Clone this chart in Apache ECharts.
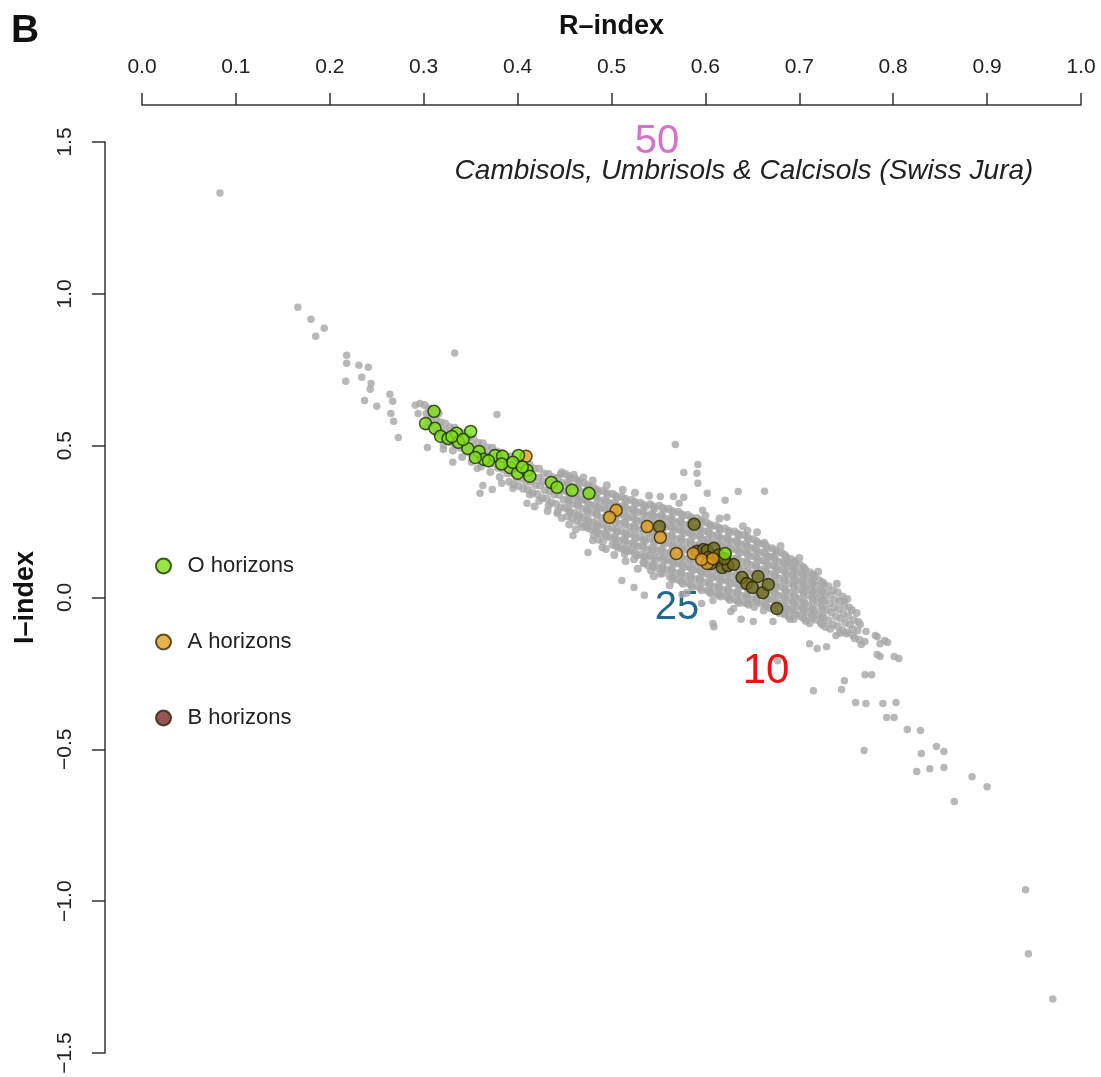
<!DOCTYPE html>
<html><head><meta charset="utf-8">
<script src="https://cdn.jsdelivr.net/npm/echarts@6/dist/echarts.min.js"></script>
<style>html,body{margin:0;padding:0;background:#fff}#c{width:1101px;height:1077px}</style>
</head><body><div id="c"></div>
<script>
// ---- data (R-index, I-index) ----
// dense band of all soil samples (grey)
const grayBand = [
[.301,.634],[.303,.606],[.304,.581],[.302,.562],[.306,.622],[.308,.595],[.307,.569],
[.311,.619],[.313,.588],[.312,.561],[.314,.539],[.316,.607],[.318,.577],[.317,.551],[.319,.530],
[.323,.573],[.322,.549],[.324,.520],[.321,.503],[.328,.561],[.327,.533],[.329,.511],
[.333,.559],[.332,.528],[.334,.503],[.331,.484],[.338,.546],[.337,.517],[.339,.493],
[.343,.541],[.342,.511],[.344,.489],[.341,.463],[.348,.528],[.347,.499],[.349,.477],
[.353,.523],[.352,.498],[.354,.469],[.351,.446],[.358,.510],[.357,.486],[.359,.457],
[.363,.508],[.362,.483],[.364,.454],[.361,.431],[.368,.494],[.367,.469],[.369,.441],
[.373,.493],[.372,.466],[.374,.441],[.371,.413],[.378,.481],[.377,.452],[.379,.427],
[.383,.477],[.382,.452],[.384,.423],[.381,.397],[.388,.464],[.387,.438],[.389,.409],
[.393,.464],[.392,.435],[.394,.410],[.391,.381],[.398,.449],[.397,.423],[.399,.394],[.396,.373],
[.403,.448],[.402,.422],[.404,.393],[.401,.367],[.408,.436],[.407,.407],[.409,.381],[.406,.358],
[.413,.437],[.412,.411],[.414,.382],[.411,.356],[.413,.339],[.418,.425],[.417,.395],[.419,.370],[.416,.344],
[.423,.424],[.422,.394],[.424,.369],[.421,.341],[.423,.319],[.428,.408],[.427,.383],[.429,.353],[.426,.328],
[.433,.407],[.432,.381],[.434,.351],[.431,.326],[.433,.303],[.438,.395],[.437,.365],[.439,.339],[.436,.313],
[.443,.394],[.442,.364],[.444,.338],[.441,.308],[.443,.284],[.446,.407],[.448,.378],[.447,.352],[.449,.322],[.446,.296],
[.451,.407],[.453,.377],[.452,.351],[.454,.321],[.451,.295],[.453,.267],[.456,.391],[.458,.365],[.457,.335],[.459,.309],[.456,.279],[.458,.261],
[.461,.392],[.463,.364],[.462,.334],[.464,.308],[.461,.278],[.463,.252],[.466,.378],[.468,.348],[.467,.322],[.469,.292],[.466,.266],[.468,.244],
[.471,.377],[.473,.347],[.472,.321],[.474,.291],[.471,.265],[.473,.235],[.476,.363],[.478,.335],[.477,.305],[.479,.279],[.476,.249],[.478,.225],
[.481,.362],[.483,.334],[.482,.304],[.484,.278],[.481,.248],[.483,.222],[.481,.204],[.486,.348],[.488,.318],[.487,.292],[.489,.262],[.486,.236],[.488,.211],
[.491,.352],[.493,.322],[.492,.296],[.494,.266],[.491,.240],[.493,.210],[.491,.185],[.496,.338],[.498,.310],[.497,.280],[.499,.254],[.496,.224],[.498,.198],
[.501,.342],[.503,.312],[.502,.286],[.504,.256],[.501,.230],[.503,.200],[.501,.174],[.506,.328],[.508,.298],[.507,.272],[.509,.242],[.506,.216],[.508,.186],[.507,.164],
[.511,.332],[.513,.304],[.512,.274],[.514,.248],[.511,.218],[.513,.192],[.511,.162],[.514,.144],[.516,.318],[.518,.288],[.517,.262],[.519,.232],[.516,.206],[.518,.176],[.517,.153],
[.521,.322],[.523,.292],[.522,.266],[.524,.236],[.521,.210],[.523,.180],[.521,.154],[.524,.126],[.526,.308],[.528,.280],[.527,.250],[.529,.224],[.526,.194],[.528,.168],[.527,.138],
[.531,.312],[.533,.284],[.532,.254],[.534,.228],[.531,.198],[.533,.172],[.531,.142],[.534,.116],[.536,.298],[.538,.268],[.537,.242],[.539,.212],[.536,.186],[.538,.156],[.537,.130],[.539,.105],
[.541,.307],[.543,.277],[.542,.251],[.544,.221],[.541,.195],[.543,.165],[.541,.139],[.544,.109],[.542,.089],[.546,.293],[.548,.265],[.547,.235],[.549,.209],[.546,.179],[.548,.153],[.547,.123],[.549,.097],
[.551,.302],[.553,.272],[.552,.246],[.554,.216],[.551,.190],[.553,.160],[.551,.134],[.554,.104],[.552,.078],[.556,.288],[.558,.258],[.557,.232],[.559,.202],[.556,.176],[.558,.146],[.557,.120],[.559,.092],
[.561,.292],[.563,.262],[.562,.236],[.564,.206],[.561,.180],[.563,.150],[.561,.124],[.564,.094],[.562,.068],[.566,.278],[.568,.248],[.567,.222],[.569,.192],[.566,.166],[.568,.136],[.567,.110],[.569,.080],[.566,.059],
[.571,.282],[.573,.252],[.572,.226],[.574,.196],[.571,.170],[.573,.140],[.571,.114],[.574,.084],[.572,.058],[.576,.268],[.578,.238],[.577,.212],[.579,.182],[.576,.156],[.578,.126],[.577,.100],[.579,.070],[.576,.045],
[.581,.272],[.583,.242],[.582,.216],[.584,.186],[.581,.160],[.583,.130],[.581,.104],[.584,.074],[.582,.048],[.586,.258],[.588,.228],[.587,.202],[.589,.172],[.586,.146],[.588,.116],[.587,.090],[.589,.060],[.586,.034],
[.591,.262],[.593,.232],[.592,.206],[.594,.176],[.591,.150],[.593,.120],[.591,.094],[.594,.064],[.592,.038],[.596,.248],[.598,.218],[.597,.192],[.599,.162],[.596,.136],[.598,.106],[.597,.080],[.599,.050],[.596,.024],
[.601,.247],[.603,.217],[.602,.191],[.604,.161],[.601,.135],[.603,.105],[.601,.079],[.604,.049],[.602,.023],[.606,.233],[.608,.203],[.607,.177],[.609,.147],[.606,.121],[.608,.091],[.607,.065],[.609,.035],[.606,.013],
[.611,.237],[.613,.207],[.612,.181],[.614,.151],[.611,.125],[.613,.095],[.611,.069],[.614,.039],[.612,.013],[.616,.223],[.618,.193],[.617,.167],[.619,.137],[.616,.111],[.618,.081],[.617,.055],[.619,.025],[.616,.003],
[.621,.227],[.623,.197],[.622,.171],[.624,.141],[.621,.115],[.623,.085],[.621,.059],[.624,.029],[.622,.003],[.626,.213],[.628,.183],[.627,.157],[.629,.127],[.626,.101],[.628,.071],[.627,.045],[.629,.015],[.626,-.008],
[.631,.217],[.633,.187],[.632,.161],[.634,.131],[.631,.105],[.633,.075],[.631,.049],[.634,.019],[.632,-.007],[.636,.203],[.638,.173],[.637,.147],[.639,.117],[.636,.091],[.638,.061],[.637,.035],[.639,.005],[.636,-.018],
[.641,.207],[.643,.177],[.642,.151],[.644,.121],[.641,.095],[.643,.065],[.641,.039],[.644,.009],[.642,-.017],[.646,.193],[.648,.163],[.647,.137],[.649,.107],[.646,.081],[.648,.051],[.647,.025],[.649,-.005],[.646,-.024],
[.651,.192],[.653,.162],[.652,.136],[.654,.106],[.651,.080],[.653,.050],[.651,.024],[.654,-.006],[.652,-.031],[.656,.178],[.658,.148],[.657,.122],[.659,.092],[.656,.066],[.658,.036],[.657,.010],[.659,-.020],
[.661,.177],[.663,.147],[.662,.121],[.664,.091],[.661,.065],[.663,.035],[.661,.009],[.664,-.021],[.662,-.043],[.666,.163],[.668,.133],[.667,.107],[.669,.077],[.666,.051],[.668,.021],[.667,-.005],[.669,-.035],
[.671,.162],[.673,.132],[.672,.106],[.674,.076],[.671,.050],[.673,.020],[.671,-.006],[.674,-.036],[.676,.148],[.678,.118],[.677,.092],[.679,.062],[.676,.036],[.678,.006],[.677,-.020],[.679,-.051],
[.681,.147],[.683,.117],[.682,.091],[.684,.061],[.681,.035],[.683,.005],[.681,-.021],[.684,-.051],[.686,.133],[.688,.103],[.687,.077],[.689,.047],[.686,.021],[.688,-.009],[.687,-.035],[.689,-.063],
[.691,.127],[.693,.097],[.692,.071],[.694,.041],[.691,.015],[.693,-.015],[.691,-.041],[.694,-.071],[.696,.113],[.698,.083],[.697,.057],[.699,.027],[.696,.001],[.698,-.029],[.697,-.057],
[.701,.107],[.703,.077],[.702,.051],[.704,.021],[.701,-.005],[.703,-.035],[.701,-.061],[.706,.093],[.708,.063],[.707,.037],[.709,.007],[.706,-.019],[.708,-.049],[.707,-.077],
[.711,.083],[.713,.053],[.712,.027],[.714,-.003],[.711,-.029],[.713,-.059],[.711,-.085],[.716,.069],[.718,.039],[.717,.013],[.719,-.017],[.716,-.043],[.718,-.073],
[.721,.057],[.723,.027],[.722,.001],[.724,-.029],[.721,-.055],[.723,-.085],[.726,.045],[.728,.015],[.727,-.011],[.729,-.041],[.726,-.067],[.728,-.097],
[.731,.037],[.733,.007],[.732,-.019],[.734,-.049],[.731,-.075],[.733,-.103],[.736,.023],[.738,-.007],[.737,-.033],[.739,-.063],[.736,-.089],
[.741,.017],[.743,-.013],[.742,-.039],[.744,-.069],[.741,-.095],[.743,-.117],[.746,.003],[.748,-.027],[.747,-.053],[.749,-.083],[.746,-.109],
[.751,-.005],[.753,-.033],[.752,-.061],[.754,-.089],[.751,-.115],[.756,-.041],[.758,-.074],[.757,-.104],[.759,-.134],
[.761,-.051],[.763,-.081],[.762,-.109],[.764,-.139],
// extra core samples
[.4545,.400],[.4545,.370],[.4545,.344],[.4545,.314],[.4545,.288],
[.4645,.385],[.4645,.357],[.4645,.327],[.4645,.301],[.4645,.271],
[.4745,.370],[.4745,.340],[.4745,.314],[.4745,.284],[.4745,.258],[.4745,.230],
[.4845,.355],[.4845,.327],[.4845,.297],[.4845,.271],[.4845,.241],[.4845,.215],
[.4945,.345],[.4945,.315],[.4945,.289],[.4945,.259],[.4945,.233],[.4945,.203],
[.5045,.335],[.5045,.305],[.5045,.279],[.5045,.249],[.5045,.223],[.5045,.193],[.5045,.170],
[.5145,.325],[.5145,.297],[.5145,.267],[.5145,.241],[.5145,.211],[.5145,.185],[.5145,.158],
[.5245,.315],[.5245,.285],[.5245,.259],[.5245,.229],[.5245,.203],[.5245,.173],[.5245,.147],
[.5345,.305],[.5345,.277],[.5345,.247],[.5345,.221],[.5345,.191],[.5345,.165],[.5345,.135],[.5345,.112],
[.5445,.300],[.5445,.270],[.5445,.244],[.5445,.214],[.5445,.188],[.5445,.158],[.5445,.132],[.5445,.102],
[.5545,.295],[.5545,.265],[.5545,.239],[.5545,.209],[.5545,.183],[.5545,.153],[.5545,.127],[.5545,.097],[.5545,.080],
[.5645,.285],[.5645,.255],[.5645,.229],[.5645,.199],[.5645,.173],[.5645,.143],[.5645,.117],[.5645,.087],[.5645,.065],
[.5745,.275],[.5745,.245],[.5745,.219],[.5745,.189],[.5745,.163],[.5745,.133],[.5745,.107],[.5745,.077],[.5745,.052],
[.5845,.265],[.5845,.235],[.5845,.209],[.5845,.179],[.5845,.153],[.5845,.123],[.5845,.097],[.5845,.067],[.5845,.041],
[.5945,.255],[.5945,.225],[.5945,.199],[.5945,.169],[.5945,.143],[.5945,.113],[.5945,.087],[.5945,.057],[.5945,.031],
[.6045,.240],[.6045,.210],[.6045,.184],[.6045,.154],[.6045,.128],[.6045,.098],[.6045,.072],[.6045,.042],[.6045,.018],
[.6145,.230],[.6145,.200],[.6145,.174],[.6145,.144],[.6145,.118],[.6145,.088],[.6145,.062],[.6145,.032],[.6145,.008],
[.6245,.220],[.6245,.190],[.6245,.164],[.6245,.134],[.6245,.108],[.6245,.078],[.6245,.052],[.6245,.022],[.6245,-.002],
[.6345,.210],[.6345,.180],[.6345,.154],[.6345,.124],[.6345,.098],[.6345,.068],[.6345,.042],[.6345,.012],[.6345,-.012],
[.6445,.200],[.6445,.170],[.6445,.144],[.6445,.114],[.6445,.088],[.6445,.058],[.6445,.032],[.6445,.002],[.6445,-.020],
[.6545,.185],[.6545,.155],[.6545,.129],[.6545,.099],[.6545,.073],[.6545,.043],[.6545,.017],[.6545,-.013],
[.6645,.170],[.6645,.140],[.6645,.114],[.6645,.084],[.6645,.058],[.6645,.028],[.6645,.002],[.6645,-.028],
[.6745,.155],[.6745,.125],[.6745,.099],[.6745,.069],[.6745,.043],[.6745,.013],[.6745,-.013],[.6745,-.043],
[.6845,.140],[.6845,.110],[.6845,.084],[.6845,.054],[.6845,.028],[.6845,-.002],[.6845,-.028],[.6845,-.056],
[.6945,.120],[.6945,.090],[.6945,.064],[.6945,.034],[.6945,.008],[.6945,-.022],[.6945,-.048],
[.7045,.100],[.7045,.070],[.7045,.044],[.7045,.014],[.7045,-.012],[.7045,-.042],[.7045,-.068],
[.7145,.076],[.7145,.046],[.7145,.020],[.7145,-.010],[.7145,-.036],[.7145,-.066],
[.7245,.050],[.7245,.020],[.7245,-.006],[.7245,-.036],[.7245,-.062],[.7245,-.090],
// ragged edges
[.418,.300],[.432,.285],[.447,.262],[.455,.240],[.462,.225],[.486,.190],[.494,.160],[.503,.140],[.515,.120],[.528,.095],[.545,.070],[.562,.040],[.580,.015],
[.540,.335],[.525,.345],[.512,.355],[.495,.370],[.480,.385],[.600,.270],[.615,.260],[.640,.235],[.655,.215],[.680,.170],[.700,.130],[.720,.085],[.740,.045]
];
// scattered samples away from the band (grey)
const grayScatter = [
[.083,1.332],[.166,.956],[.180,.916],[.194,.887],[.185,.860],[.218,.798],[.218,.771],[.231,.765],[.241,.758],[.217,.712],[.234,.725],[.244,.705],[.243,.686],[.237,.649],[.250,.630],[.264,.669],[.267,.646],[.265,.606],[.268,.580],[.273,.527],[.291,.633],[.296,.639],[.294,.606],[.333,.805],[.378,.603],
[.304,.494],[.321,.488],[.331,.445],[.357,.425],[.363,.369],[.360,.343],[.373,.356],[.383,.376],[.395,.359],[.410,.310],[.442,.277],[.459,.204],[.475,.148],[.480,.188],[.490,.165],[.469,.231],[.511,.056],[.524,.033],[.535,.007],[.608,-.010],[.608,-.086],[.630,-.036],[.596,-.020],[.575,.010],
[.568,.504],[.592,.438],[.577,.412],[.591,.409],[.592,.376],[.602,.343],[.635,.349],[.621,.320],[.552,.333],[.566,.333],[.577,.330],[.572,.310],[.597,.287],[.623,.264],[.645,.221],[.663,.181],[.669,.135],[.688,.115],[.663,.350],[.470,.396],[.460,.405],[.447,.413],
[.711,-.152],[.719,-.168],[.729,-.162],[.739,-.125],[.750,-.119],[.757,-.125],[.609,-.096],[.627,-.046],[.638,-.072],[.651,-.079],[.672,-.079],[.690,-.072],[.677,-.208],
[.748,-.010],[.765,-.089],[.771,-.112],[.770,-.145],[.766,-.155],[.783,-.129],[.786,-.152],[.794,-.148],[.786,-.194],[.806,-.201],[.781,-.125],[.791,-.142],[.783,-.188],[.801,-.194],
[.770,-.254],[.777,-.254],[.748,-.274],[.745,-.303],[.715,-.307],[.760,-.346],[.771,-.349],[.789,-.349],[.803,-.346],[.793,-.395],[.801,-.395],[.815,-.435],[.829,-.438],
[.769,-.504],[.830,-.514],[.846,-.491],[.854,-.507],[.825,-.573],[.839,-.564],[.854,-.560],[.884,-.590],[.900,-.623],[.865,-.672],
[.941,-.962],[.944,-1.173],[.970,-1.322]
];
const oHorizons = [[.311,.613],[.302,.573],[.312,.557],[.318,.531],[.326,.524],[.335,.541],[.337,.511],[.350,.547],[.347,.491],[.359,.481],[.364,.455],[.355,.461],[.376,.468],[.384,.465],[.392,.428],[.401,.468],[.400,.409],[.410,.419],[.413,.399],[.383,.440],[.369,.450],[.395,.445],[.405,.430],[.436,.379],[.442,.363],[.458,.353],[.476,.343],[.621,.145],[.330,.530],[.342,.520]];
const aHorizons = [[.409,.465],[.505,.287],[.498,.264],[.538,.234],[.552,.198],[.569,.145],[.587,.145],[.602,.112],[.596,.125],[.608,.128]];
const bHorizons = [[.551,.234],[.588,.241],[.591,.152],[.598,.158],[.602,.155],[.609,.162],[.603,.132],[.612,.122],[.618,.099],[.624,.105],[.630,.109],[.614,.140],[.620,.128],[.639,.066],[.644,.046],[.650,.033],[.656,.069],[.661,.016],[.667,.043],[.676,-.036],[.606,.112]];
const seriesNames = ['O horizons','A horizons','B horizons'];
const xTitle = 'R–index', yTitle = 'I–index';
const plotTitle = 'Cambisols, Umbrisols & Calcisols (Swiss Jura)';

const FF = '"Liberation Sans", Arial, Helvetica, sans-serif';
const fmt = v => (v < 0 ? '−' : '') + Math.abs(v).toFixed(1);
const axisCol = '#333';
const chart = echarts.init(document.getElementById('c'), null, {renderer:'canvas'});
chart.setOption({
  animation:false,
  backgroundColor:'#fff',
  grid:{left:142,right:20,top:142,bottom:24},
  xAxis:{type:'value',position:'top',min:0,max:1,interval:0.1,offset:37,
    name:xTitle,nameLocation:'middle',nameGap:65,
    nameTextStyle:{fontSize:27,fontWeight:'bold',color:'#111',fontFamily:FF},
    axisLine:{show:true,onZero:false,lineStyle:{color:axisCol,width:1.5}},
    axisTick:{show:true,length:12,lineStyle:{color:axisCol,width:1.5}},
    axisLabel:{fontSize:21,color:'#222',margin:27,fontFamily:FF,formatter:fmt},
    splitLine:{show:false}},
  yAxis:{type:'value',min:-1.5,max:1.5,interval:0.5,offset:37,
    name:yTitle,nameLocation:'middle',nameGap:66,nameRotate:90,
    nameTextStyle:{fontSize:27,fontWeight:'bold',color:'#111',fontFamily:FF},
    axisLine:{show:true,onZero:false,lineStyle:{color:axisCol,width:1.5}},
    axisTick:{show:true,length:13,lineStyle:{color:axisCol,width:1.5}},
    axisLabel:{fontSize:21,color:'#222',margin:29,rotate:90,fontFamily:FF,formatter:fmt},
    splitLine:{show:false}},
  legend:{orient:'vertical',left:150,top:550,itemGap:54,itemWidth:30,itemHeight:15,icon:'circle',
    textStyle:{fontSize:22,color:'#222',fontFamily:FF,padding:[0,0,0,4]},
    data:[{name:seriesNames[0]},{name:seriesNames[1]},{name:seriesNames[2],itemStyle:{color:'#7a2a2a'}}]},
  graphic:[
    {type:'text',x:11,y:31,style:{text:'B',font:'bold 39px '+FF,fill:'#111',align:'left',verticalAlign:'middle'}},
    {type:'text',x:744,y:171,style:{text:plotTitle,font:'italic 28px '+FF,fill:'#222',align:'center',verticalAlign:'middle'}},
    {type:'text',x:657,y:142,style:{text:'50',font:'40px '+FF,fill:'#d473c9',align:'center',verticalAlign:'middle'}},
    {type:'text',x:677,y:608,style:{text:'25',font:'40px '+FF,fill:'#1f6a8a',align:'center',verticalAlign:'middle'}},
    {type:'text',x:766,y:671,style:{text:'10',font:'42px '+FF,fill:'#ee1111',align:'center',verticalAlign:'middle'}}
  ],
  series:[
    {type:'scatter',name:'band',data:grayBand,symbolSize:8,silent:true,itemStyle:{color:'#a6a6a6'},z:1},
    {type:'scatter',name:'scatter',data:grayScatter,symbolSize:7.5,silent:true,itemStyle:{color:'#a6a6a6'},z:1},
    {type:'scatter',name:seriesNames[2],data:bHorizons,symbolSize:12,itemStyle:{color:'#6e6a1e',borderColor:'#2a2400',borderWidth:1.5},z:2},
    {type:'scatter',name:seriesNames[1],data:aHorizons,symbolSize:12,itemStyle:{color:'#e19e22',borderColor:'#3a2800',borderWidth:1.5},z:3},
    {type:'scatter',name:seriesNames[0],data:oHorizons,symbolSize:12,itemStyle:{color:'#7ddd16',borderColor:'#1c2e00',borderWidth:1.5},z:4}
  ]
});
</script></body></html>
